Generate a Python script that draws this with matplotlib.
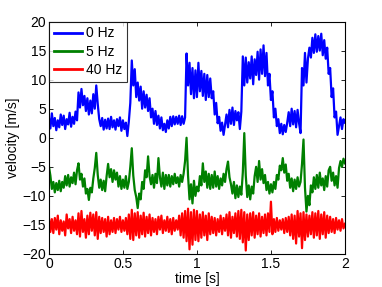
import numpy as np
import matplotlib.pyplot as plt

plt.rcParams['font.family'] = ['Liberation Sans', 'DejaVu Sans']

# velocity, one sample every 0.01 s from 0 to 2 s
vel_0hz = [
    3.5, 1.6, 4.2, 2.0, 3.4, 1.3, 3.0, 1.8, 4.0, 2.2,
    3.8, 1.5, 3.2, 2.3, 4.3, 1.9, 3.6, 2.4, 4.5, 3.0,
    7.8, 5.2, 8.4, 5.6, 7.2, 4.6, 6.8, 4.0, 6.4, 4.2,
    7.5, 5.0, 9.0, 5.8, 3.2, 2.0, 3.4, 1.4, 3.1, 1.6,
    3.3, 1.5, 3.6, 1.8, 3.0, 1.4, 3.2, 2.0, 3.5, 1.2,
    3.0, 1.5, 2.6, 0.3, 2.8, 6.0, 13.3, 9.0, 11.8, 7.0,
    9.5, 6.4, 8.8, 5.0, 8.0, 5.2, 7.4, 4.6, 6.8, 3.5,
    5.0, 2.4, 4.6, 2.2, 3.8, 1.6, 3.5, 1.3, 2.4, 1.0,
    3.0, 1.6, 3.6, 2.0, 3.7, 2.3, 3.6, 2.4, 3.8, 2.2,
    3.7, 2.4, 3.5, 14.5, 9.0, 12.9, 7.5, 12.0, 6.8, 11.6,
    7.0, 12.9, 8.0, 11.5, 7.2, 11.0, 6.5, 10.8, 7.0, 10.2,
    6.8, 8.0, 4.0, 6.0, 2.5, 3.6, 1.2, 2.6, 0.5, 2.2,
    4.0, 1.8, 4.8, 2.4, 5.2, 2.2, 4.6, 3.0, 4.4, 1.5,
    4.5, 14.0, 9.0, 13.8, 9.5, 13.0, 10.2, 14.0, 9.2, 13.5,
    10.8, 14.8, 10.0, 15.2, 11.0, 15.9, 10.6, 14.6, 9.0, 11.0,
    6.5, 8.0, 3.5, 5.0, 2.0, 3.2, 0.8, 2.4, 0.6, 2.2,
    1.0, 2.6, 4.4, 2.0, 5.0, 2.3, 4.6, 1.8, 4.8, 2.5,
    0.8, 12.0, 9.0, 14.6, 9.5, 13.6, 15.5, 13.8, 17.2, 14.6,
    17.8, 14.8, 17.5, 15.0, 17.9, 14.2, 16.8, 13.6, 15.5, 11.0,
    12.0, 7.0, 8.5, 3.5, 4.5, 0.5, 2.0, 3.5, 1.5, 3.2,
    2.6,
]

vel_5hz = [
    -4.9, -6.5, -8.8, -7.6, -9.4, -7.8, -9.0, -7.4, -9.2, -7.6,
    -8.6, -6.6, -8.2, -6.4, -8.4, -6.8, -7.8, -6.0, -8.0, -5.6,
    -4.4, -7.2, -6.2, -8.4, -7.0, -9.6, -8.8, -10.7, -8.6, -9.4,
    -7.0, -5.2, -2.6, -6.4, -8.6, -7.2, -9.0, -7.4, -9.2, -6.6,
    -4.5, -6.8, -5.4, -7.6, -5.6, -7.2, -6.0, -8.4, -6.6, -8.8,
    -7.2, -8.6, -6.6, -8.8, -7.6, -5.0, -1.8, -6.5, -9.0, -10.2,
    -12.1, -9.6, -10.6, -7.6, -8.8, -5.6, -6.8, -3.2, -6.6, -8.0,
    -6.4, -8.6, -6.2, -7.8, -3.5, -6.8, -8.4, -6.0, -8.8, -6.4,
    -8.2, -6.4, -8.4, -6.6, -8.0, -6.2, -7.8, -6.8, -8.4, -6.4,
    -7.6, -6.2, -4.0, 0.0, -6.5, -10.6, -8.0, -11.3, -7.4, -10.0,
    -8.4, -9.2, -6.6, -8.2, -4.4, -7.6, -5.8, -8.6, -6.2, -8.8,
    -6.4, -8.6, -5.8, -8.4, -6.6, -8.8, -7.0, -8.2, -6.2, -7.6,
    -5.4, -4.1, -6.8, -8.0, -9.6, -7.6, -10.4, -8.2, -10.2, -8.4,
    -9.8, -6.0, 0.8, -6.5, -10.2, -8.2, -10.6, -8.4, -9.6, -6.6,
    -5.0, -7.6, -4.0, -7.2, -5.4, -7.8, -6.4, -9.0, -7.6, -9.6,
    -8.0, -9.4, -7.6, -8.8, -6.4, -7.2, -4.8, -5.6, -3.5, -6.0,
    -4.6, -7.4, -6.2, -8.6, -7.0, -9.2, -7.2, -8.8, -6.8, -8.4,
    -7.6, -4.5, -0.3, -8.6, -12.7, -10.0, -11.6, -8.2, -9.4, -6.8,
    -8.8, -6.4, -8.6, -6.0, -8.2, -7.0, -9.0, -6.6, -8.4, -5.6,
    -5.0, -7.4, -6.0, -8.2, -6.6, -8.6, -5.2, -4.0, -5.0, -3.6,
    -4.4,
]

vel_40hz = [
    -13.6, -16.2, -14.0, -16.4, -13.8, -15.8, -13.4, -16.6, -14.2, -16.0,
    -14.4, -16.8, -13.2, -15.6, -14.0, -16.4, -13.6, -16.0, -14.2, -16.6,
    -13.0, -17.0, -12.6, -16.2, -14.0, -17.2, -13.4, -16.6, -12.9, -16.0,
    -13.2, -16.8, -12.8, -17.4, -13.6, -16.4, -13.8, -16.2, -14.0, -17.0,
    -13.6, -16.6, -14.2, -16.2, -13.8, -16.4, -14.0, -15.8, -13.6, -16.2,
    -14.2, -16.0, -13.8, -16.6, -13.2, -17.4, -12.4, -17.6, -13.0, -16.8,
    -12.8, -17.2, -13.4, -16.6, -12.9, -17.0, -13.6, -16.4, -13.2, -16.8,
    -13.8, -16.2, -14.0, -16.6, -13.6, -15.8, -13.4, -16.4, -14.2, -16.0,
    -13.6, -16.2, -14.0, -16.6, -13.8, -16.0, -14.2, -15.8, -13.4, -16.8,
    -13.0, -17.2, -12.6, -17.8, -12.2, -19.2, -12.8, -18.4, -12.4, -17.6,
    -12.6, -17.8, -13.2, -17.2, -12.8, -16.8, -13.4, -17.6, -13.0, -16.6,
    -13.6, -16.4, -13.8, -16.8, -14.0, -16.2, -13.4, -16.6, -13.8, -16.0,
    -13.2, -16.8, -12.8, -17.2, -13.6, -16.4, -13.0, -17.0, -12.6, -17.4,
    -12.4, -18.0, -12.8, -19.4, -13.2, -17.6, -13.0, -16.8, -12.8, -17.2,
    -13.4, -16.6, -13.0, -17.0, -13.6, -16.4, -13.2, -16.8, -13.0, -16.2,
    -11.0, -16.6, -14.0, -16.2, -13.8, -16.0, -14.2, -15.8, -14.0, -16.4,
    -13.8, -16.2, -13.6, -16.8, -13.2, -17.4, -13.4, -18.2, -12.6, -17.0,
    -13.0, -19.0, -12.8, -17.6, -13.2, -17.0, -13.4, -16.6, -12.8, -17.2,
    -13.0, -16.8, -12.6, -17.4, -13.2, -16.6, -12.8, -17.2, -13.4, -16.4,
    -13.6, -16.2, -14.0, -16.4, -13.8, -15.8, -14.2, -16.0, -14.0, -15.6,
    -14.8,
]

labels = ['0 Hz', '5 Hz', '40 Hz']
colors = ['#0000ff', '#008000', '#ff0000']


def main():
    t = np.linspace(0, 2, len(vel_0hz))
    fig = plt.figure(figsize=(3.82, 2.87), dpi=100)
    ax = fig.add_axes([0.128, 0.115, 0.775, 0.81])
    for v, lab, c in zip([vel_0hz, vel_5hz, vel_40hz], labels, colors):
        ax.plot(t, v, color=c, linewidth=1.6, label=lab)

    ax.set_xlim(0, 2)
    ax.set_ylim(-20, 20)
    ax.set_xticks([0, 0.5, 1, 1.5, 2])
    ax.set_xticklabels(['0', '0.5', '1', '1.5', '2'])
    ax.set_yticks(np.arange(-20, 21, 5))
    ax.tick_params(direction='in', top=True, right=True, labelsize=10,
                   length=3, width=0.6, pad=2)
    for s in ax.spines.values():
        s.set_linewidth(0.8)
    ax.set_xlabel('time [s]', fontsize=10, labelpad=1)
    ax.set_ylabel('velocity [m/s]', fontsize=10, labelpad=2)

    leg = ax.legend(loc='upper left', fontsize=10, fancybox=False,
                    borderaxespad=0, handlelength=2.0, handletextpad=0.3,
                    labelspacing=0.3, borderpad=0.35)
    leg.get_frame().set_edgecolor('black')
    leg.get_frame().set_linewidth(0.8)
    for line in leg.get_lines():
        line.set_linewidth(2)

    fig.savefig('out.png', dpi=100)


if __name__ == '__main__':
    main()
